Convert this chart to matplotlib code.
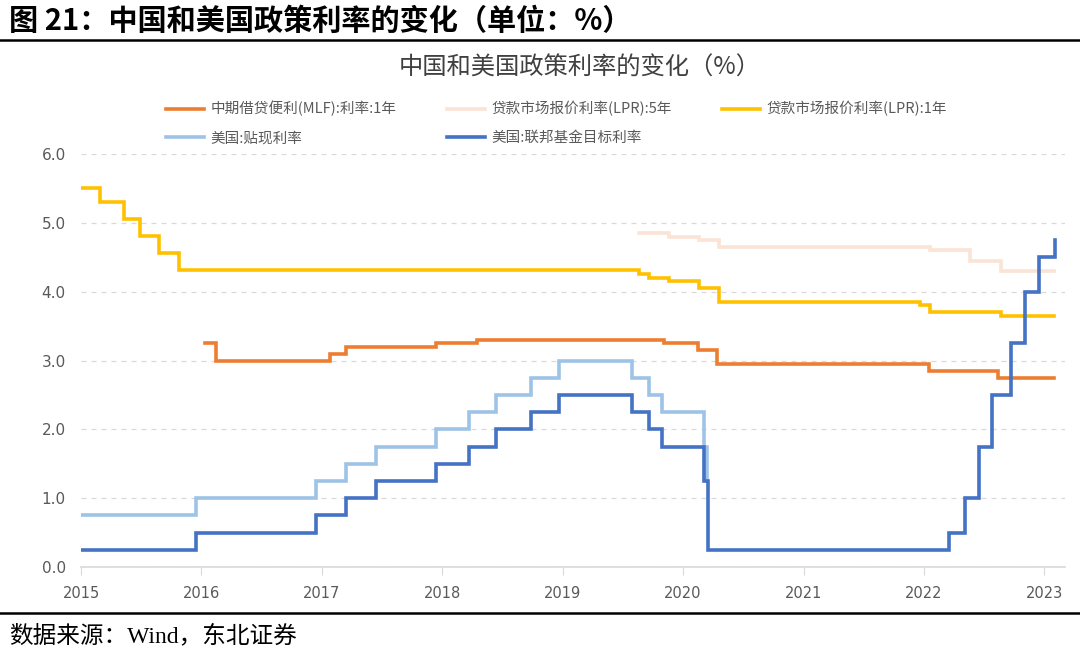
import matplotlib
matplotlib.use('Agg')
import matplotlib.pyplot as plt
import pandas as pd

plt.rcParams['font.family'] = ['Noto Sans CJK SC', 'DejaVu Sans']

# policy rates, change dates and the new value (last entry = end of series)
mlf_dates = ['2016-01-12', '2016-02-15', '2017-01-24', '2017-03-16', '2017-12-14', '2018-04-17',
             '2019-11-05', '2020-02-17', '2020-04-15', '2022-01-17', '2022-08-15', '2023-01-31']
mlf_vals = [3.25, 3.00, 3.10, 3.20, 3.25, 3.30, 3.25, 3.15, 2.95, 2.85, 2.75, 2.75]

lpr5_dates = ['2019-08-20', '2019-11-20', '2020-02-20', '2020-04-20', '2022-01-20', '2022-05-20',
              '2022-08-22', '2023-01-31']
lpr5_vals = [4.85, 4.80, 4.75, 4.65, 4.60, 4.45, 4.30, 4.30]

lpr1_dates = ['2015-01-01', '2015-03-01', '2015-05-11', '2015-06-28', '2015-08-26', '2015-10-24',
              '2019-08-20', '2019-09-20', '2019-11-20', '2020-02-20', '2020-04-20', '2021-12-20',
              '2022-01-20', '2022-08-22', '2023-01-31']
lpr1_vals = [5.51, 5.30, 5.05, 4.81, 4.56, 4.31, 4.25, 4.20, 4.15, 4.05, 3.85, 3.80, 3.70, 3.65, 3.65]

disc_dates = ['2015-01-01', '2015-12-17', '2016-12-15', '2017-03-16', '2017-06-15', '2017-12-14',
              '2018-03-22', '2018-06-14', '2018-09-27', '2018-12-20', '2019-08-01', '2019-09-19',
              '2019-10-31', '2020-03-04', '2020-03-15']
disc_vals = [0.75, 1.00, 1.25, 1.50, 1.75, 2.00, 2.25, 2.50, 2.75, 3.00, 2.75, 2.50, 2.25, 1.75, 1.25]

fed_dates = ['2015-01-01', '2015-12-17', '2016-12-15', '2017-03-16', '2017-06-15', '2017-12-14',
             '2018-03-22', '2018-06-14', '2018-09-27', '2018-12-20', '2019-08-01', '2019-09-19',
             '2019-10-31', '2020-03-04', '2020-03-16', '2022-03-17', '2022-05-05', '2022-06-16',
             '2022-07-28', '2022-09-22', '2022-11-03', '2022-12-15', '2023-02-02']
fed_vals = [0.25, 0.50, 0.75, 1.00, 1.25, 1.50, 1.75, 2.00, 2.25, 2.50, 2.25, 2.00,
            1.75, 1.25, 0.25, 0.50, 1.00, 1.75, 2.50, 3.25, 4.00, 4.50, 4.75]

series = [
    ('中期借贷便利(MLF):利率:1年', mlf_dates, mlf_vals, '#ED7D31'),
    ('美国:贴现利率', disc_dates, disc_vals, '#9DC3E6'),
    ('贷款市场报价利率(LPR):5年', lpr5_dates, lpr5_vals, '#FBE3D6'),
    ('美国:联邦基金目标利率', fed_dates, fed_vals, '#4472C4'),
    ('贷款市场报价利率(LPR):1年', lpr1_dates, lpr1_vals, '#FFC000'),
]
draw_order = [2, 4, 0, 1, 3]

years = list(range(2015, 2024))
yticks = [0, 1, 2, 3, 4, 5, 6]

fig = plt.figure(figsize=(10.8, 6.56), dpi=100)
ax = fig.add_axes([0.075, 0.1357, 0.911, 0.6295])

handles = {}
for i in draw_order:
    name, d, v, c = series[i]
    ln, = ax.plot(pd.to_datetime(d), v, drawstyle='steps-post', color=c, lw=2.6,
                  label=name, solid_joinstyle='miter')
    handles[i] = ln

ax.set_ylim(0, 6)
ax.set_xlim(pd.Timestamp('2015-01-01'), pd.Timestamp('2023-03-05'))
ax.set_yticks(yticks)
ax.set_yticklabels([f'{t:.1f}' for t in yticks])
ax.set_xticks([pd.Timestamp(f'{y}-01-01') for y in years])
ax.set_xticklabels([str(y) for y in years])
ax.yaxis.grid(True, ls=(0, (4, 4)), color='#D9D9D9', lw=0.9)
for s in ['top', 'right', 'left']:
    ax.spines[s].set_visible(False)
ax.spines['bottom'].set_color('#D9D9D9')
ax.spines['bottom'].set_linewidth(1.2)
ax.tick_params(axis='y', length=0, labelsize=11, labelcolor='#595959', pad=11)
ax.tick_params(axis='x', length=6, color='#D9D9D9', labelsize=10.5, labelcolor='#595959', pad=8)
for lab in ax.get_xticklabels() + ax.get_yticklabels():
    lab.set_family(['Liberation Sans Narrow', 'DejaVu Sans'])

fig.legend([handles[i] for i in range(5)], [series[i][0] for i in range(5)],
           ncol=3, loc='upper left', bbox_to_anchor=(0.142, 0.866), frameon=False,
           fontsize=10.5, handlelength=2.6, columnspacing=3.5, labelspacing=1.0,
           labelcolor='#595959', handletextpad=0.4)

fig.text(0.537, 0.897, '中国和美国政策利率的变化（%）', ha='center', va='center',
         fontsize=17.5, color='#404040')

fig.text(0.008, 0.968, '图 21：中国和美国政策利率的变化（单位：%）', ha='left', va='center',
         fontsize=21, fontweight='bold', color='black')
fig.add_artist(plt.Line2D([0, 1], [0.939, 0.939], color='black', lw=1.8, transform=fig.transFigure))
fig.add_artist(plt.Line2D([0, 1], [0.066, 0.066], color='black', lw=1.8, transform=fig.transFigure))
fig.text(0.008, 0.030, '数据来源：Wind，东北证券', ha='left', va='center', fontsize=17,
         color='black', family=['Liberation Serif', 'Noto Sans CJK SC'])

fig.savefig('out.png', dpi=100)
